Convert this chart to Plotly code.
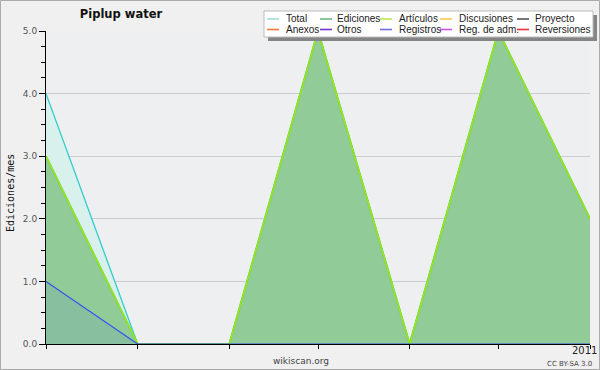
import plotly.graph_objects as go

# ---- data ----
months = ["2010-07-01", "2010-08-01", "2010-09-01", "2010-10-01",
          "2010-11-01", "2010-12-01", "2011-01-01"]
total = [4, 0, 0, 5, 0, 5, 2]
ediciones = [3, 0, 0, 5, 0, 5, 2]
articulos = [3, 0, 0, 5, 0, 5, 2]
registros = [1, 0, 0, 0, 0, 0, 0]
month_ticktext = ["", "", "", "", "", "", ""]
year_label = "2011"
y_tickvals = [0, 1, 2, 3, 4, 5]
y_ticktext = ["0.0", "1.0", "2.0", "3.0", "4.0", "5.0"]

legend_names = ["Total", "Ediciones", "Artículos", "Discusiones", "Proyecto",
                "Anexos", "Otros", "Registros", "Reg. de adm.", "Reversiones"]
legend_colors = ["#a0dede", "#6fbb80", "#bbe84a", "#ffc850", "#555555",
                 "#ff7733", "#7733cc", "#6f6fee", "#cc50ee", "#ee3333"]

W, H = 600, 370
L, R, T, B = 46, 10, 31, 26
PW, PH = W - L - R, H - T - B


def px(x):
    return (x - L) / PW


def py(y):
    return (H - B - y) / PH


LEG_FONT = "Liberation Sans, Arial, sans-serif"

fig = go.Figure()
fig.add_trace(go.Scatter(x=months, y=total, name="Total", mode="lines",
                         line=dict(color="#33cccc", width=1.3),
                         fill="tozeroy", fillcolor="#d9f1ec"))
fig.add_trace(go.Scatter(x=months, y=ediciones, name="Ediciones", mode="lines",
                         line=dict(color="#77cc66", width=2),
                         fill="tozeroy", fillcolor="#91cb98"))
fig.add_trace(go.Scatter(x=months, y=articulos, name="Artículos", mode="lines",
                         line=dict(color="#99ee00", width=1.2)))
fig.add_trace(go.Scatter(x=months, y=registros, name="Registros", mode="lines",
                         line=dict(color="#3355ee", width=1.2),
                         fill="tozeroy", fillcolor="rgba(60,80,225,0.09)"))

shapes = []
# outer border
shapes.append(dict(type="rect", xref="paper", yref="paper",
                   x0=px(0.5), x1=px(W - 0.5), y0=py(0.5), y1=py(H - 0.5),
                   line=dict(color="#aaaaaa", width=1), fillcolor="rgba(0,0,0,0)",
                   layer="below"))
# legend box with shadow
lx0, lx1, ly0, ly1 = 264, 593, 11, 37
shapes.append(dict(type="rect", xref="paper", yref="paper",
                   x0=px(lx0 + 4), x1=px(lx1 + 4), y0=py(ly0 + 4), y1=py(ly1 + 4),
                   line=dict(width=0), fillcolor="#858585", layer="above"))
shapes.append(dict(type="rect", xref="paper", yref="paper",
                   x0=px(lx0), x1=px(lx1), y0=py(ly0), y1=py(ly1),
                   line=dict(color="#bbbbbb", width=1), fillcolor="#ffffff", layer="above"))

sym_x = [267, 320, 380, 440, 517]
txt_x = [284, 335, 397, 457, 533]
row_y = [19, 29.5]
annotations = []
for i, (name, col) in enumerate(zip(legend_names, legend_colors)):
    c, r = i % 5, i // 5
    shapes.append(dict(type="line", xref="paper", yref="paper",
                       x0=px(sym_x[c]), x1=px(sym_x[c] + 12), y0=py(row_y[r]), y1=py(row_y[r]),
                       line=dict(color=col, width=1.6), layer="above"))
    annotations.append(dict(text=name, xref="paper", yref="paper",
                            x=px(txt_x[c]), y=py(row_y[r]), xanchor="left", yanchor="middle",
                            showarrow=False,
                            font=dict(family=LEG_FONT, size=10, color="#222222")))

annotations.append(dict(text="Ediciones/mes", xref="paper", yref="paper",
                        x=px(10), y=py(193), textangle=-90, showarrow=False,
                        xanchor="center", yanchor="middle",
                        font=dict(family="DejaVu Sans Mono", size=10, color="#111111")))
annotations.append(dict(text="wikiscan.org", xref="paper", yref="paper",
                        x=px(301), y=py(360.5), showarrow=False, xanchor="center", yanchor="middle",
                        font=dict(family="DejaVu Sans", size=9, color="#444444")))
annotations.append(dict(text="CC BY-SA 3.0", xref="paper", yref="paper",
                        x=px(569), y=py(363.5), showarrow=False, xanchor="center", yanchor="middle",
                        font=dict(family="DejaVu Sans", size=7, color="#444444")))
annotations.append(dict(text=year_label, xref="x", yref="paper",
                        x=months[-1], y=py(350.5), showarrow=False, xanchor="right", yanchor="middle",
                        xshift=9,
                        font=dict(family="DejaVu Sans", size=10, color="#222222")))

fig.update_layout(
    width=W, height=H,
    margin=dict(l=L, r=R, t=T, b=B),
    paper_bgcolor="#f0f0f0", plot_bgcolor="#eeeff1",
    showlegend=False,
    title=dict(text="<b>Piplup water</b>", x=px(121), xref="paper", xanchor="center",
               y=1 - 14 / H, yanchor="middle",
               font=dict(family="DejaVu Sans", size=11.5, color="#111111")),
    shapes=shapes, annotations=annotations,
    xaxis=dict(type="date", range=[months[0], months[-1]], tickvals=months,
               ticktext=month_ticktext, ticks="outside", ticklen=4, tickcolor="#000",
               showline=True, linecolor="#000", linewidth=1, showgrid=False,
               zeroline=False, fixedrange=True),
    yaxis=dict(range=[0, 5], tickvals=y_tickvals, ticktext=y_ticktext,
               ticks="outside", ticklen=6, tickcolor="#000",
               minor=dict(ticks="outside", ticklen=4, dtick=0.25, tickcolor="#000", showgrid=False),
               showline=True, linecolor="#000", linewidth=1,
               showgrid=True, gridcolor="#cccccc", gridwidth=1, zeroline=False,
               tickfont=dict(family="DejaVu Sans", size=9, color="#555555"),
               fixedrange=True),
)

fig.write_html("out.html")
